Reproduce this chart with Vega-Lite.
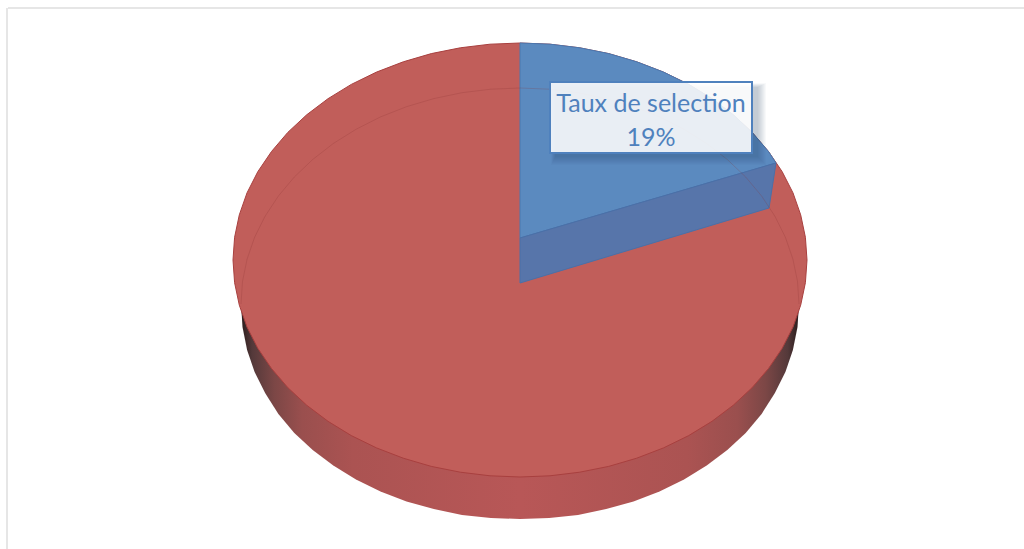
{"$schema":"https://vega.github.io/schema/vega-lite/v6.json","width":1024,"height":549,"padding":0,"autosize":{"type":"none"},"background":"white","config":{"view":{"stroke":null}},
"datasets":{
"frame":[{"x":8,"x2":1024,"y":8,"y2":8},{"x":7,"x2":7,"y":8,"y2":549}],
"topFace":[{"x":233,"y":260,"y2":260},{"x":234.6,"y":237.3,"y2":282.7},{"x":239.3,"y":214.9,"y2":305.1},{"x":247,"y":192.9,"y2":327.1},{"x":257.8,"y":171.7,"y2":348.3},{"x":271.5,"y":151.5,"y2":368.5},{"x":287.8,"y":132.4,"y2":387.6},{"x":306.7,"y":114.8,"y2":405.2},{"x":328,"y":98.7,"y2":421.3},{"x":351.3,"y":84.4,"y2":435.6},{"x":376.5,"y":72.1,"y2":447.9},{"x":403.3,"y":61.8,"y2":458.2},{"x":431.3,"y":53.6,"y2":466.4},{"x":460.3,"y":47.8,"y2":472.2},{"x":490,"y":44.2,"y2":475.8},{"x":520,"y":43,"y2":477},{"x":550,"y":44.2,"y2":475.8},{"x":579.7,"y":47.8,"y2":472.2},{"x":608.7,"y":53.6,"y2":466.4},{"x":636.7,"y":61.8,"y2":458.2},{"x":663.5,"y":72.1,"y2":447.9},{"x":688.7,"y":84.4,"y2":435.6},{"x":712,"y":98.7,"y2":421.3},{"x":733.3,"y":114.8,"y2":405.2},{"x":752.2,"y":132.4,"y2":387.6},{"x":768.5,"y":151.5,"y2":368.5},{"x":782.2,"y":171.7,"y2":348.3},{"x":793,"y":192.9,"y2":327.1},{"x":800.7,"y":214.9,"y2":305.1},{"x":805.4,"y":237.3,"y2":282.7},{"x":807,"y":260,"y2":260}],
"back":[{"x":241,"y":304,"y2":304},{"x":242.5,"y":281.4,"y2":327},{"x":247.1,"y":259.1,"y2":350},{"x":254.6,"y":237.3,"y2":372},{"x":265.1,"y":216.2,"y2":393},{"x":278.4,"y":196,"y2":414},{"x":294.3,"y":177,"y2":433},{"x":312.7,"y":159.5,"y2":450},{"x":333.3,"y":143.5,"y2":465.5},{"x":356,"y":129.3,"y2":479.5},{"x":380.5,"y":116.9,"y2":491.5},{"x":406.5,"y":106.7,"y2":501.5},{"x":433.8,"y":98.6,"y2":509},{"x":462,"y":92.7,"y2":515},{"x":490.8,"y":89.2,"y2":518},{"x":520,"y":88,"y2":519},{"x":549.2,"y":89.2,"y2":518},{"x":578,"y":92.7,"y2":515},{"x":606.2,"y":98.6,"y2":509},{"x":633.5,"y":106.7,"y2":501.5},{"x":659.5,"y":116.9,"y2":491.5},{"x":684,"y":129.3,"y2":479.5},{"x":706.7,"y":143.5,"y2":465.5},{"x":727.3,"y":159.5,"y2":450},{"x":745.7,"y":177,"y2":433},{"x":761.6,"y":196,"y2":414},{"x":774.9,"y":216.2,"y2":393},{"x":785.4,"y":237.3,"y2":372},{"x":792.9,"y":259.1,"y2":350},{"x":797.5,"y":281.4,"y2":327},{"x":799,"y":304,"y2":304}],
"wedgeTop":[{"x":520,"y":43,"y2":238},{"x":550,"y":44.2,"y2":229.2},{"x":579.7,"y":47.8,"y2":220.5},{"x":608.7,"y":53.6,"y2":212},{"x":636.7,"y":61.8,"y2":203.8},{"x":663.5,"y":72.1,"y2":196},{"x":688.7,"y":84.4,"y2":188.6},{"x":712,"y":98.7,"y2":181.7},{"x":733.3,"y":114.8,"y2":175.5},{"x":752.2,"y":132.4,"y2":170},{"x":768.5,"y":151.5,"y2":165.2},{"x":776,"y":163,"y2":163}],
"wedgeSide":[{"x":520,"y":238,"y2":283},{"x":769,"y":165,"y2":208},{"x":776,"y":163,"y2":163}],
"shadow":[{"x":551,"x2":766,"y":83,"y2":165},{"x":552,"x2":765,"y":84,"y2":164},{"x":552,"x2":764,"y":84,"y2":163},{"x":553,"x2":763,"y":85,"y2":162},{"x":553,"x2":762,"y":85,"y2":161},{"x":554,"x2":761,"y":86,"y2":160},{"x":554,"x2":760,"y":86,"y2":159},{"x":555,"x2":759,"y":87,"y2":158},{"x":555,"x2":758,"y":87,"y2":157}],
"box":[{"x":550,"x2":752,"y":82,"y2":153}],
"labels":[{"x":651,"y":104,"label":"Taux de selection"},{"x":651,"y":138,"label":"19%"}]
},
"encoding":{"x":{"field":"x","type":"quantitative","scale":{"domain":[0,1024],"nice":false,"zero":false},"axis":null},"y":{"field":"y","type":"quantitative","scale":{"domain":[549,0],"nice":false,"zero":false},"axis":null}},
"layer":[
{"data":{"name":"frame"},"mark":{"type":"rule","stroke":"#dedede","strokeWidth":1.5},"encoding":{"x2":{"field":"x2"},"y2":{"field":"y2"}}},
{"data":{"name":"back"},"mark":{"type":"area","color":{"gradient":"linear","x1":0,"x2":1,"y1":0,"y2":0,"stops":[{"offset":0,"color":"#2a1c1c"},{"offset":0.02,"color":"#54393a"},{"offset":0.06,"color":"#7c4746"},{"offset":0.11,"color":"#9a4f4e"},{"offset":0.2,"color":"#ab5352"},{"offset":0.5,"color":"#b85757"},{"offset":0.8,"color":"#ab5352"},{"offset":0.89,"color":"#9a4f4e"},{"offset":0.94,"color":"#7c4746"},{"offset":0.98,"color":"#54393a"},{"offset":1,"color":"#2a1c1c"}]}},"encoding":{"y2":{"field":"y2"}}},
{"data":{"name":"topFace"},"mark":{"type":"area","fill":"#c15e5a","stroke":"#a8403f","strokeWidth":1},"encoding":{"y2":{"field":"y2"}}},
{"data":{"name":"wedgeTop"},"mark":{"type":"area","fill":"#5b8abf","stroke":"#4a78b0","strokeWidth":1},"encoding":{"y2":{"field":"y2"}}},
{"data":{"name":"wedgeSide"},"mark":{"type":"area","fill":"#5775aa","stroke":"#4a70a8","strokeWidth":1},"encoding":{"y2":{"field":"y2"}}},
{"data":{"name":"back"},"mark":{"type":"line","stroke":"#8a3030","strokeWidth":1,"opacity":0.22}},
{"data":{"name":"shadow"},"mark":{"type":"rect","fill":"#1f3550","opacity":0.03},"encoding":{"x2":{"field":"x2"},"y2":{"field":"y2"}}},
{"data":{"name":"box"},"mark":{"type":"rect","fill":"#ffffff","fillOpacity":0.88,"stroke":"#4f81bd","strokeWidth":2},"encoding":{"x2":{"field":"x2"},"y2":{"field":"y2"}}},
{"data":{"name":"labels"},"mark":{"type":"text","font":"Lato","fontSize":25,"fill":"#4f81bd","align":"center","baseline":"middle"},"encoding":{"text":{"field":"label"}}}
]}
